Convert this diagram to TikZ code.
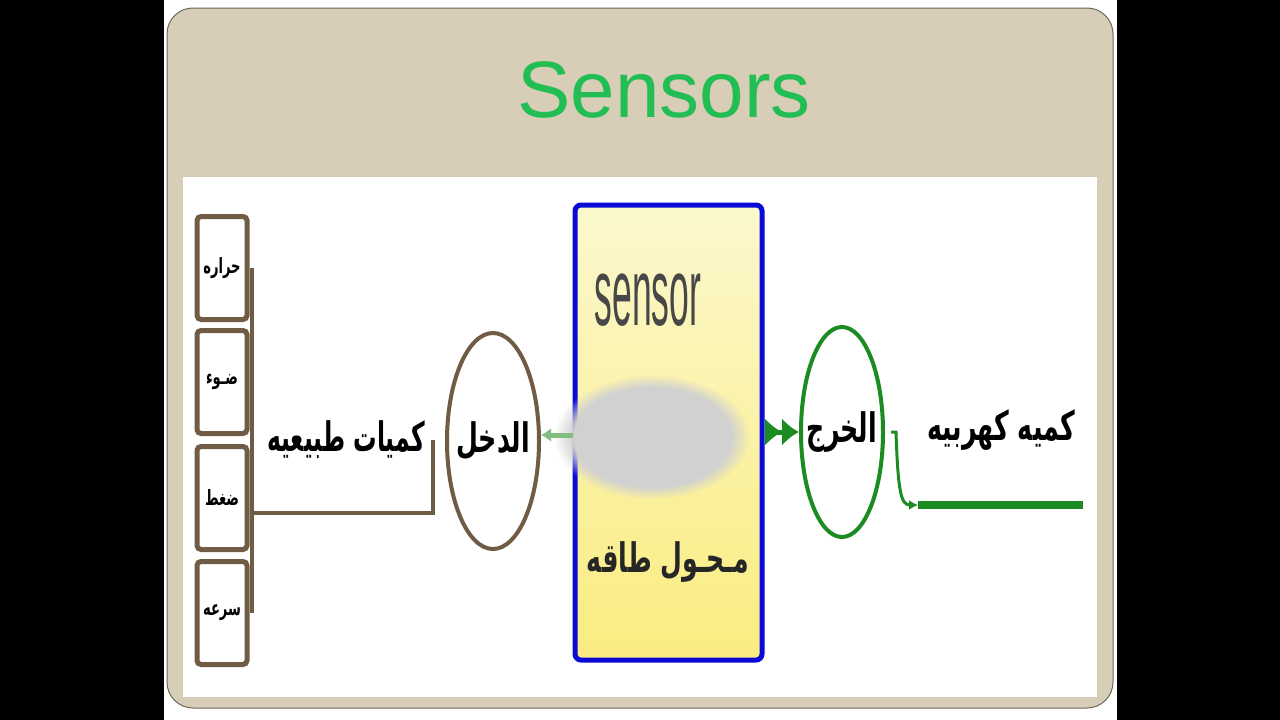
\documentclass[tikz,border=0pt]{standalone}
\usepackage{fontspec}
\setmainfont{Liberation Sans}
\newfontfamily\arabicfont[Script=Arabic]{DejaVu Sans}
\TeXXeTstate=1
\usetikzlibrary{arrows.meta,shapes.geometric,fadings}
\definecolor{slidebeige}{RGB}{216,206,184}
\definecolor{boxbrown}{RGB}{112,92,68}
\definecolor{outgreen}{RGB}{28,140,34}
\definecolor{titlegreen}{RGB}{34,190,84}
\definecolor{sensorblue}{RGB}{10,10,215}
\definecolor{fadegreen}{RGB}{130,190,130}
\newcommand{\artext}[1]{\scalebox{0.9}[1.45]{\beginR #1\endR}}
\tikzset{
  qtybox/.style={draw=boxbrown, line width=5pt, rounded corners=4pt, fill=white, minimum width=50pt, minimum height=103pt, inner sep=0pt, font=\arabicfont\bfseries\fontsize{14.5}{18}\selectfont},
  arlabel/.style={font=\arabicfont\bfseries\fontsize{28}{34}\selectfont},
  brownline/.style={boxbrown, line width=4pt},
}
\begin{document}
\begin{tikzpicture}[x=1pt,y=-1pt]
\useasboundingbox (0,0) rectangle (1280,720);
\fill [black] (0,0) rectangle (1280,720);
\fill [white] (164,0) rectangle (1117,720);
\draw [slidebeige!50!black, line width=1pt, fill=slidebeige, rounded corners=26pt] (167,8) rectangle (1113,708);
\fill [white] (183,177) rectangle (1097,697);
\node [font=\fontsize{80}{90}\selectfont, text=titlegreen] (title) at (664,90) {Sensors};

\node [qtybox] (heat) at (222,268) {\artext{حراره}};
\node [qtybox] (light) at (222,382) {\artext{ضـوء}};
\node [qtybox] (press) at (222,498) {\artext{ضغط}};
\node [qtybox] (speed) at (222,613) {\artext{سرعه}};

\coordinate (join) at (252,513);
\coordinate (inend) at (433,440);
\draw [brownline] ([xshift=2.5pt]heat.east) -- ([xshift=2.5pt]speed.east);
\draw [brownline] (join) -| (inend);
\node [arlabel] (natural) at (346,440) {\scalebox{0.93}[1]{\artext{كميات طبيعيه}}};

\node [ellipse, draw=boxbrown, line width=4pt, minimum width=92pt, minimum height=216pt, inner sep=0pt] (input) at (493,441) {};
\node [arlabel] (inlabel) at (input) {\artext{الدخل}};

\node [draw=sensorblue, line width=5pt, rounded corners=6pt, top color={rgb,255:red,251;green,248;blue,205}, bottom color={rgb,255:red,250;green,236;blue,128}, minimum width=187pt, minimum height=455pt] (sensor) at (668.5,432.5) {};
\fill [black!18, path fading=circle with fuzzy edge 20 percent] (652,437) ellipse [x radius=98, y radius=62];
\node [text=black!72, font=\fontsize{96}{100}\selectfont] (sensorword) at (648,300) {\scalebox{0.37}[1]{sensor}};
\node [arlabel, text=black!85] (convert) at (668,562) {\artext{مـحـول طاقه}};

\draw [fadegreen, line width=5pt, -{Latex[length=10pt,width=14pt]}] (sensor.west |- 0,435) -- (input.east |- 0,435);

\node [ellipse, draw=outgreen, line width=4pt, minimum width=82pt, minimum height=210pt, inner sep=0pt] (output) at (842,432) {};
\node [arlabel] (outlabel) at (output) {\artext{الخرج}};
\draw [outgreen, line width=5pt, -{Latex[length=17pt,width=28pt]Latex[length=17pt,width=28pt]}] (sensor.east |- output.west) -- (output.west);

\coordinate (outa) at (918,505);
\coordinate (outb) at (1083,505);
\draw [outgreen, line width=3pt, -{Latex[length=9pt,width=10pt]}] ([xshift=6pt]output.east) -- ++(5,0) .. controls (898,492) and (901,505) .. (outa);
\draw [outgreen, line width=8pt] (outa) -- (outb);
\node [arlabel] (electric) at (1001,430) {\artext{كميه كهربيه}};
\end{tikzpicture}
\end{document}
